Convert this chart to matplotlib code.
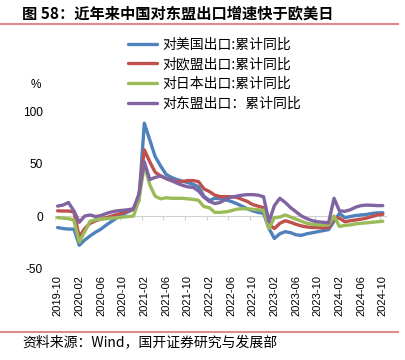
import matplotlib
matplotlib.use('Agg')
import matplotlib.pyplot as plt
from matplotlib.lines import Line2D
import numpy as np
import pandas as pd

plt.rcParams['font.family'] = ['Noto Sans CJK SC', 'DejaVu Sans']

# monthly categories 2019-10 .. 2024-10
months = [p.strftime('%Y-%m') for p in pd.period_range('2019-10', '2024-10', freq='M')]

tick_labels = ['2019-10', '2020-02', '2020-06', '2020-10', '2021-02', '2021-06',
               '2021-10', '2022-02', '2022-06', '2022-10', '2023-02', '2023-06',
               '2023-10', '2024-02', '2024-06', '2024-10']

us = [-11, -12, -12.5, -12.5, -28, -23, -19, -15.5, -12.5, -8.5, -5, -1.5, 1.5, 4, 6.5,
      15, 89, 73, 57, 48, 40, 37, 35, 33.5, 32, 30.5, 28, 19, 15, 17, 16.5, 15.5, 14, 12,
      9.5, 7, 5, 3.5, 2.5, -12, -21.5, -17, -15, -16, -18, -18.5, -17, -16, -15, -14, -13,
      -5, 2.5, -1.5, -0.5, 0.5, 1, 1.5, 2.5, 3, 3.2]
eu = [5, 4.8, 4.8, 4, -20, -12, -7, -4.5, -3, -1.5, 0, 1.5, 3, 5, 6.5,
      20, 63.5, 52, 42, 38.5, 36, 34, 33, 33, 34, 34, 33, 26, 23.5, 20, 18.6, 18.6, 18.5, 18,
      16, 14, 11, 9.5, 8, -8, -12, -7, -4.5, -6, -8, -9.5, -10.5, -11, -11, -11.3, -11,
      -2, -2, -5.5, -4.5, -3.8, -3, -2, -0.5, 1, 1.6]
jp = [-1.5, -2, -2.5, -4, -25, -15, -5, -3.5, -3, -2.5, -2, -1.5, -1, -0.5, 0,
      15, 49, 30, 19, 16.5, 17.5, 17, 17, 17, 16.5, 16, 15, 9, 8, 3.5, 3.5, 4, 5, 6.5,
      7, 7, 6.5, 6, 5.5, -12, -1.5, -1, 1, -1, -3, -5, -7, -8, -8.5, -8.7, -8.5,
      0, -10, -9, -8.5, -7.5, -7, -6.5, -6, -5.5, -5]
asean = [9.5, 10.5, 13, 5, -6, 0, 1, -0.5, 0.5, 2.5, 4, 5, 5.5, 6, 7,
         21, 52, 35, 37, 38.5, 36, 34, 31.5, 29.5, 28, 27.5, 24, 18, 14, 12, 13, 16, 18, 19,
         20, 20.5, 20.5, 20, 18.5, -5.5, 10, 17, 13, 8, 4, 0, -2.5, -4.5, -5.5, -6, -6.5,
         17, 5, 4.5, 6, 8.5, 10, 10.5, 10.3, 10, 10]

series_names = ['对美国出口:累计同比', '对欧盟出口:累计同比', '对日本出口:累计同比', '对东盟出口：累计同比']
series_colors = ['#4F81BD', '#C0504D', '#9BBB59', '#8064A2']

W, H = 405, 360
fig = plt.figure(figsize=(W / 100, H / 100), dpi=100)
ax = fig.add_axes([54.9 / W, 1 - 268.2 / H, (385.5 - 54.9) / W, (268.2 - 111.7) / H])

x = np.arange(len(months))
for vals, name, col in zip([us, eu, jp, asean], series_names, series_colors):
    ax.plot(x, vals, color=col, lw=2.4, label=name, solid_joinstyle='round',
            solid_capstyle='round')

ax.set_xlim(-0.5, len(months) - 0.5)
ax.set_ylim(-50, 100)

for s in ['left', 'right', 'top']:
    ax.spines[s].set_visible(False)
ax.spines['bottom'].set_position(('data', 0))
ax.spines['bottom'].set_color('#d0d0d0')
ax.spines['bottom'].set_linewidth(0.8)
ax.spines['bottom'].set_zorder(0)
ax.set_xticks(np.arange(-0.5, len(months), 4))
ax.tick_params(axis='x', length=3, color='#d0d0d0', labelbottom=False, direction='out')

ax.set_yticks([-50, 0, 50, 100])
ax.set_yticklabels(['-50', '0', '50', '100'], fontfamily='Liberation Sans', fontsize=8.6)
ax.tick_params(axis='y', length=0, pad=8.5)

sec = ax.secondary_xaxis(0)
tick_pos = [months.index(t) for t in tick_labels]
sec.set_xticks(tick_pos)
sec.set_xticklabels(tick_labels, rotation=90, fontfamily='Liberation Sans', fontsize=8)
sec.tick_params(length=0, pad=5)
sec.spines['bottom'].set_visible(False)

fig.text(35.5 / W, 1 - 85 / H, '%', ha='center', va='center', fontsize=8.5,
         fontfamily='Liberation Sans')

ax.legend(loc='upper left', bbox_to_anchor=(128 / W, 1 - 37.5 / H), bbox_transform=fig.transFigure,
          frameon=False, fontsize=10, handlelength=2.1, handletextpad=0.35, labelspacing=0.42,
          borderpad=0, borderaxespad=0)

fig.text(22 / W, 1 - 13 / H, '图 58：近年来中国对东盟出口增速快于欧美日', fontsize=11,
         fontweight='bold', va='center', ha='left')
fig.add_artist(Line2D([0, 398 / W], [1 - 23.5 / H] * 2, color='#e08a8c', lw=1.5))
fig.add_artist(Line2D([0, 398 / W], [1 - 332 / H] * 2, color='#e08a8c', lw=1.5))
fig.text(22 / W, 1 - 342 / H, '资料来源：Wind，国开证券研究与发展部', fontsize=10,
         va='center', ha='left')

fig.savefig('out.png', dpi=100)
